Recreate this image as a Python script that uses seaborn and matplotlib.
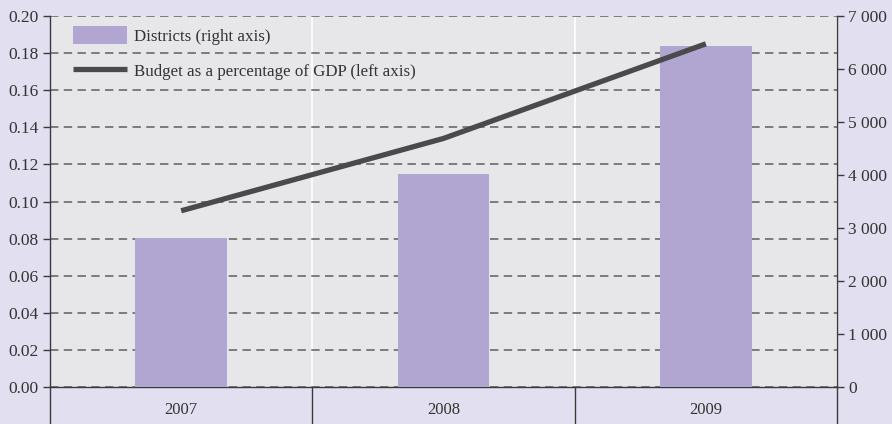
import matplotlib
matplotlib.use("Agg")
import matplotlib.pyplot as plt
from matplotlib.patches import Patch
from matplotlib.lines import Line2D
from matplotlib.ticker import FuncFormatter, FixedLocator
import seaborn as sns
import pandas as pd

years = ["2007", "2008", "2009"]
districts = [2820, 4020, 6430]           # right axis
budget_pct_gdp = [0.095, 0.134, 0.185]   # left axis
left_ticks = [0.00, 0.02, 0.04, 0.06, 0.08, 0.10, 0.12, 0.14, 0.16, 0.18, 0.20]
right_ticks = [0, 1000, 2000, 3000, 4000, 5000, 6000, 7000]

sns.set_theme(style="ticks")
plt.rcParams["font.family"] = ["Liberation Serif", "DejaVu Serif"]

FIG_BG = "#e2e0f0"
PLOT_BG = "#e7e7ea"
BAR_C = "#b1a6d2"
LINE_C = "#4a4a4c"
AX_C = "#3a3a3a"
TXT_C = "#333333"
LW = 3.8

df = pd.DataFrame({"year": years, "districts": districts, "budget": budget_pct_gdp})

fig = plt.figure(figsize=(8.92, 4.24), dpi=100, facecolor=FIG_BG)
ax = fig.add_axes([50 / 892, 37 / 424, 787 / 892, 371 / 424])
ax.set_facecolor(PLOT_BG)

# left scale: grid and ticks
ax.set_ylim(0, 0.2)
ax.set_xlim(-0.5, 2.5)
ax.yaxis.set_major_locator(FixedLocator(left_ticks))
ax.yaxis.set_major_formatter(FuncFormatter(lambda v, p: f"{v:.2f}"))
ax.grid(axis="y", color="#5e5e5e", linestyle=(0, (5.5, 3.5)), linewidth=1.1)
ax.set_axisbelow(True)

# bars on the right scale
ax2 = ax.twinx()
sns.barplot(data=df, x="year", y="districts", ax=ax2, color=BAR_C,
            saturation=1, width=0.35, errorbar=None, linewidth=0, edgecolor="none")
ax2.set_ylim(0, 7000)
ax2.set_xlim(-0.5, 2.5)
ax2.yaxis.set_major_locator(FixedLocator(right_ticks))
ax2.yaxis.set_major_formatter(FuncFormatter(lambda v, p: f"{int(v):,}".replace(",", " ")))
ax2.set_ylabel("")
ax2.set_xlabel("")

# line on top, left scale
ax3 = ax.twinx()
sns.pointplot(data=df, x="year", y="budget", ax=ax3, color=LINE_C,
              markers="", linewidth=LW, errorbar=None)
for ln in ax3.lines:
    ln.set_solid_capstyle("butt")
ax3.set_ylim(0, 0.2)
ax3.set_xlim(-0.5, 2.5)
ax3.set_yticks([])
ax3.set_ylabel("")
ax3.set_xlabel("")
for a in (ax2, ax3):
    a.patch.set_visible(False)
    for s in a.spines.values():
        s.set_visible(False)
    a.tick_params(axis="x", which="both", bottom=False, top=False,
                  labelbottom=False)

# x axis: long separators between categories, labels centred
ax.xaxis.set_major_locator(FixedLocator([-0.5, 0.5, 1.5, 2.5]))
ax.xaxis.set_minor_locator(FixedLocator([0, 1, 2]))
ax.xaxis.set_major_formatter(FuncFormatter(lambda v, p: ""))
ax.xaxis.set_minor_formatter(FuncFormatter(lambda v, p: years[int(round(v))]))
ax.tick_params(axis="x", which="major", bottom=True, length=27, width=1,
               color=AX_C, direction="out")
ax.tick_params(axis="x", which="minor", bottom=True, length=0, pad=11,
               labelsize=12, labelcolor=TXT_C)
ax.grid(axis="x", which="major", color="white", linestyle="-", linewidth=1.2)

ax.tick_params(axis="y", which="major", left=True, right=False, length=5, width=1,
               color=AX_C, labelsize=12.5, labelcolor=TXT_C, pad=3, direction="out")
ax2.tick_params(axis="y", which="major", right=True, left=False, length=5, width=1,
                color=AX_C, labelsize=12.5, labelcolor=TXT_C, pad=3, direction="out")

for name, s in ax.spines.items():
    s.set_color(AX_C)
    s.set_linewidth(1)
ax.spines["top"].set_visible(False)
ax.spines["right"].set_visible(True)

handles = [Patch(facecolor=BAR_C, edgecolor="none"),
           Line2D([0], [0], color=LINE_C, linewidth=LW, solid_capstyle="butt")]
labels = ["Districts (right axis)", "Budget as a percentage of GDP (left axis)"]
leg = ax3.legend(handles, labels, loc="upper left", bbox_to_anchor=(0.02, 0.99),
                 frameon=False, fontsize=12.2, handlelength=3.2, handleheight=1.2,
                 labelspacing=1.0, handletextpad=0.45, borderaxespad=0)
for t in leg.get_texts():
    t.set_color(TXT_C)

fig.savefig("out.png", dpi=100, facecolor=FIG_BG)
